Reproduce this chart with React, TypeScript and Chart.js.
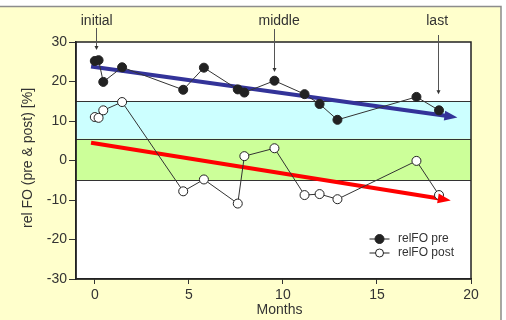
import React, { useEffect, useRef } from "react";
import { Chart, registerables } from "chart.js";

Chart.register(...registerables);

const months = [0, 0.2, 0.45, 1.45, 4.7, 5.8, 7.6, 7.95, 9.55, 11.15, 11.95, 12.9, 17.1, 18.3];
const relFOPre = [25.2, 25.4, 19.9, 23.6, 17.9, 23.5, 18.0, 17.2, 20.2, 16.8, 14.3, 10.3, 16.1, 12.7];
const relFOPost = [11.0, 10.8, 12.7, 14.8, -7.8, -4.8, -10.9, 1.1, 3.1, -8.75, -8.5, -9.8, -0.1, -8.75];

const trendPreX = [-0.2, 18.75];
const trendPreY = [23.8, 11.25];
const trendPostX = [-0.2, 18.4];
const trendPostY = [4.5, -9.7];

const bandEdges = [15, 5.5, -5];
const xTickValues = [0, 5, 10, 15, 20];

const annoLabels = ["initial", "middle", "last"];
const annoX = [0.07, 9.52, 18.25];
const annoTip = [28, 22.4, 16.8];
const annoStartPx = [28, 29, 35];
const annoTextX = [0.1, 9.8, 18.2];

const seriesNames = ["relFO pre", "relFO post"];

const FONT = "'Liberation Sans', Arial, sans-serif";

const decorPlugin = {
  id: "decor",
  beforeDraw(chart: any) {
    const ctx = chart.ctx;
    const { left, right, top, bottom } = chart.chartArea;
    const y = chart.scales.y;
    ctx.save();
    ctx.fillStyle = "#FFFFCC";
    ctx.fillRect(0, 6, 501, 320);
    ctx.strokeStyle = "#8c8c8c";
    ctx.lineWidth = 1.5;
    ctx.beginPath();
    ctx.moveTo(0, 6.5);
    ctx.lineTo(501, 6.5);
    ctx.lineTo(501, 320);
    ctx.stroke();
    ctx.fillStyle = "#FFFFFF";
    ctx.fillRect(left, top, right - left, bottom - top);
    const p15 = y.getPixelForValue(bandEdges[0]);
    const p55 = y.getPixelForValue(bandEdges[1]);
    const pm5 = y.getPixelForValue(bandEdges[2]);
    ctx.fillStyle = "#CCFFFF";
    ctx.fillRect(left, p15, right - left, p55 - p15);
    ctx.fillStyle = "#CCFF99";
    ctx.fillRect(left, p55, right - left, pm5 - p55);
    ctx.strokeStyle = "#333333";
    ctx.lineWidth = 1;
    for (const v of bandEdges) {
      const py = Math.round(y.getPixelForValue(v)) + 0.5;
      ctx.beginPath();
      ctx.moveTo(left, py);
      ctx.lineTo(right, py);
      ctx.stroke();
    }
    ctx.restore();
  },
  afterDatasetsDraw(chart: any) {
    const ctx = chart.ctx;
    [2, 3].forEach((i) => {
      const meta = chart.getDatasetMeta(i);
      const ds = chart.data.datasets[i];
      const a = meta.data[0];
      const b = meta.data[meta.data.length - 1];
      const ang = Math.atan2(b.y - a.y, b.x - a.x);
      const back = 3;
      const fwd = 10;
      const hw = 5;
      const bx = b.x - Math.cos(ang) * back;
      const by = b.y - Math.sin(ang) * back;
      const tx = b.x + Math.cos(ang) * fwd;
      const ty = b.y + Math.sin(ang) * fwd;
      const nx = -Math.sin(ang) * hw;
      const ny = Math.cos(ang) * hw;
      ctx.save();
      ctx.fillStyle = ds.borderColor;
      ctx.beginPath();
      ctx.moveTo(tx, ty);
      ctx.lineTo(bx + nx, by + ny);
      ctx.lineTo(bx - nx, by - ny);
      ctx.closePath();
      ctx.fill();
      ctx.restore();
    });
  },
  afterDraw(chart: any) {
    const ctx = chart.ctx;
    const { left, right, top, bottom } = chart.chartArea;
    const x = chart.scales.x;
    const y = chart.scales.y;
    ctx.save();
    ctx.strokeStyle = "#222222";
    ctx.lineWidth = 1.5;
    ctx.strokeRect(left, top, right - left, bottom - top);

    ctx.font = `14px ${FONT}`;
    ctx.textAlign = "center";
    ctx.textBaseline = "middle";
    annoLabels.forEach((lab, i) => {
      ctx.fillStyle = "#333333";
      ctx.fillText(lab, x.getPixelForValue(annoTextX[i]), 21.5);
      const ax = Math.round(x.getPixelForValue(annoX[i])) + 0.5;
      const tipY = y.getPixelForValue(annoTip[i]);
      ctx.strokeStyle = "#555555";
      ctx.lineWidth = 1;
      ctx.beginPath();
      ctx.moveTo(ax, annoStartPx[i]);
      ctx.lineTo(ax, tipY - 3);
      ctx.stroke();
      ctx.fillStyle = "#333333";
      ctx.beginPath();
      ctx.moveTo(ax, tipY);
      ctx.lineTo(ax - 2, tipY - 4);
      ctx.lineTo(ax + 2, tipY - 4);
      ctx.closePath();
      ctx.fill();
    });

    ctx.fillStyle = "#333333";
    ctx.font = `14px ${FONT}`;
    ctx.textAlign = "center";
    ctx.textBaseline = "middle";
    ctx.fillText("Months", 279.5, 310);
    ctx.save();
    ctx.translate(28, 158);
    ctx.rotate(-Math.PI / 2);
    ctx.fillText("rel FO (pre & post) [%]", 0, 0);
    ctx.restore();

    const lx = 379.5;
    const rows = [239, 253];
    ctx.font = `12px ${FONT}`;
    ctx.textAlign = "left";
    seriesNames.forEach((name, i) => {
      const ry = rows[i];
      ctx.strokeStyle = "#222222";
      ctx.lineWidth = 1;
      ctx.beginPath();
      ctx.moveTo(lx - 10, ry);
      ctx.lineTo(lx + 10, ry);
      ctx.stroke();
      ctx.beginPath();
      ctx.arc(lx, ry, i === 0 ? 4.5 : 4, 0, Math.PI * 2);
      ctx.fillStyle = i === 0 ? "#222222" : "#FFFFFF";
      ctx.fill();
      ctx.stroke();
      ctx.fillStyle = "#333333";
      ctx.fillText(name, 398, ry);
    });
    ctx.restore();
  },
};

export default function App() {
  const canvasRef = useRef<HTMLCanvasElement | null>(null);

  useEffect(() => {
    document.body.style.margin = "0";
    const canvas = canvasRef.current;
    if (!canvas) return;
    Chart.defaults.font.family = FONT;
    const chart = new Chart(canvas, {
      type: "line",
      data: {
        datasets: [
          {
            label: seriesNames[0],
            data: months.map((m, i) => ({ x: m, y: relFOPre[i] })),
            borderColor: "#333333",
            borderWidth: 1,
            pointRadius: 4.5,
            pointBackgroundColor: "#222222",
            pointBorderColor: "#222222",
            pointBorderWidth: 1,
            showLine: true,
            tension: 0,
          },
          {
            label: seriesNames[1],
            data: months.map((m, i) => ({ x: m, y: relFOPost[i] })),
            borderColor: "#333333",
            borderWidth: 1,
            pointRadius: 4.5,
            pointBackgroundColor: "#FFFFFF",
            pointBorderColor: "#222222",
            pointBorderWidth: 1,
            showLine: true,
            tension: 0,
          },
          {
            label: "trend pre",
            data: trendPreX.map((m, i) => ({ x: m, y: trendPreY[i] })),
            borderColor: "#333399",
            borderWidth: 4,
            pointRadius: 0,
            borderCapStyle: "butt",
          },
          {
            label: "trend post",
            data: trendPostX.map((m, i) => ({ x: m, y: trendPostY[i] })),
            borderColor: "#FF0000",
            borderWidth: 4,
            pointRadius: 0,
            borderCapStyle: "butt",
          },
        ],
      },
      options: {
        animation: false,
        responsive: false,
        maintainAspectRatio: false,
        layout: { padding: { top: 42, right: 35, left: 0, bottom: 0 } },
        plugins: {
          legend: { display: false },
          tooltip: { enabled: false },
        },
        scales: {
          x: {
            type: "linear",
            min: -1,
            max: 20,
            afterBuildTicks: (scale: any) => {
              scale.ticks = xTickValues.map((v) => ({ value: v }));
            },
            afterFit: (scale: any) => {
              scale.height = 41;
            },
            grid: {
              display: true,
              drawOnChartArea: false,
              drawTicks: true,
              tickLength: 5,
              color: "#333333",
            },
            border: { display: true, color: "#222222", width: 1.5 },
            ticks: {
              color: "#333333",
              font: { size: 14, family: FONT },
              padding: 3,
              maxRotation: 0,
            },
          },
          y: {
            type: "linear",
            min: -30,
            max: 30,
            afterFit: (scale: any) => {
              scale.width = 76;
            },
            grid: {
              display: true,
              drawOnChartArea: false,
              drawTicks: true,
              tickLength: 7,
              color: "#333333",
            },
            border: { display: true, color: "#222222", width: 1.5 },
            ticks: {
              stepSize: 10,
              color: "#333333",
              font: { size: 14, family: FONT },
              padding: 2,
            },
          },
        },
      },
      plugins: [decorPlugin],
    });
    return () => chart.destroy();
  }, []);

  return (
    <div style={{ position: "absolute", left: 0, top: 0, width: 506, height: 320 }}>
      <canvas ref={canvasRef} width={506} height={320} style={{ width: 506, height: 320 }} />
    </div>
  );
}
